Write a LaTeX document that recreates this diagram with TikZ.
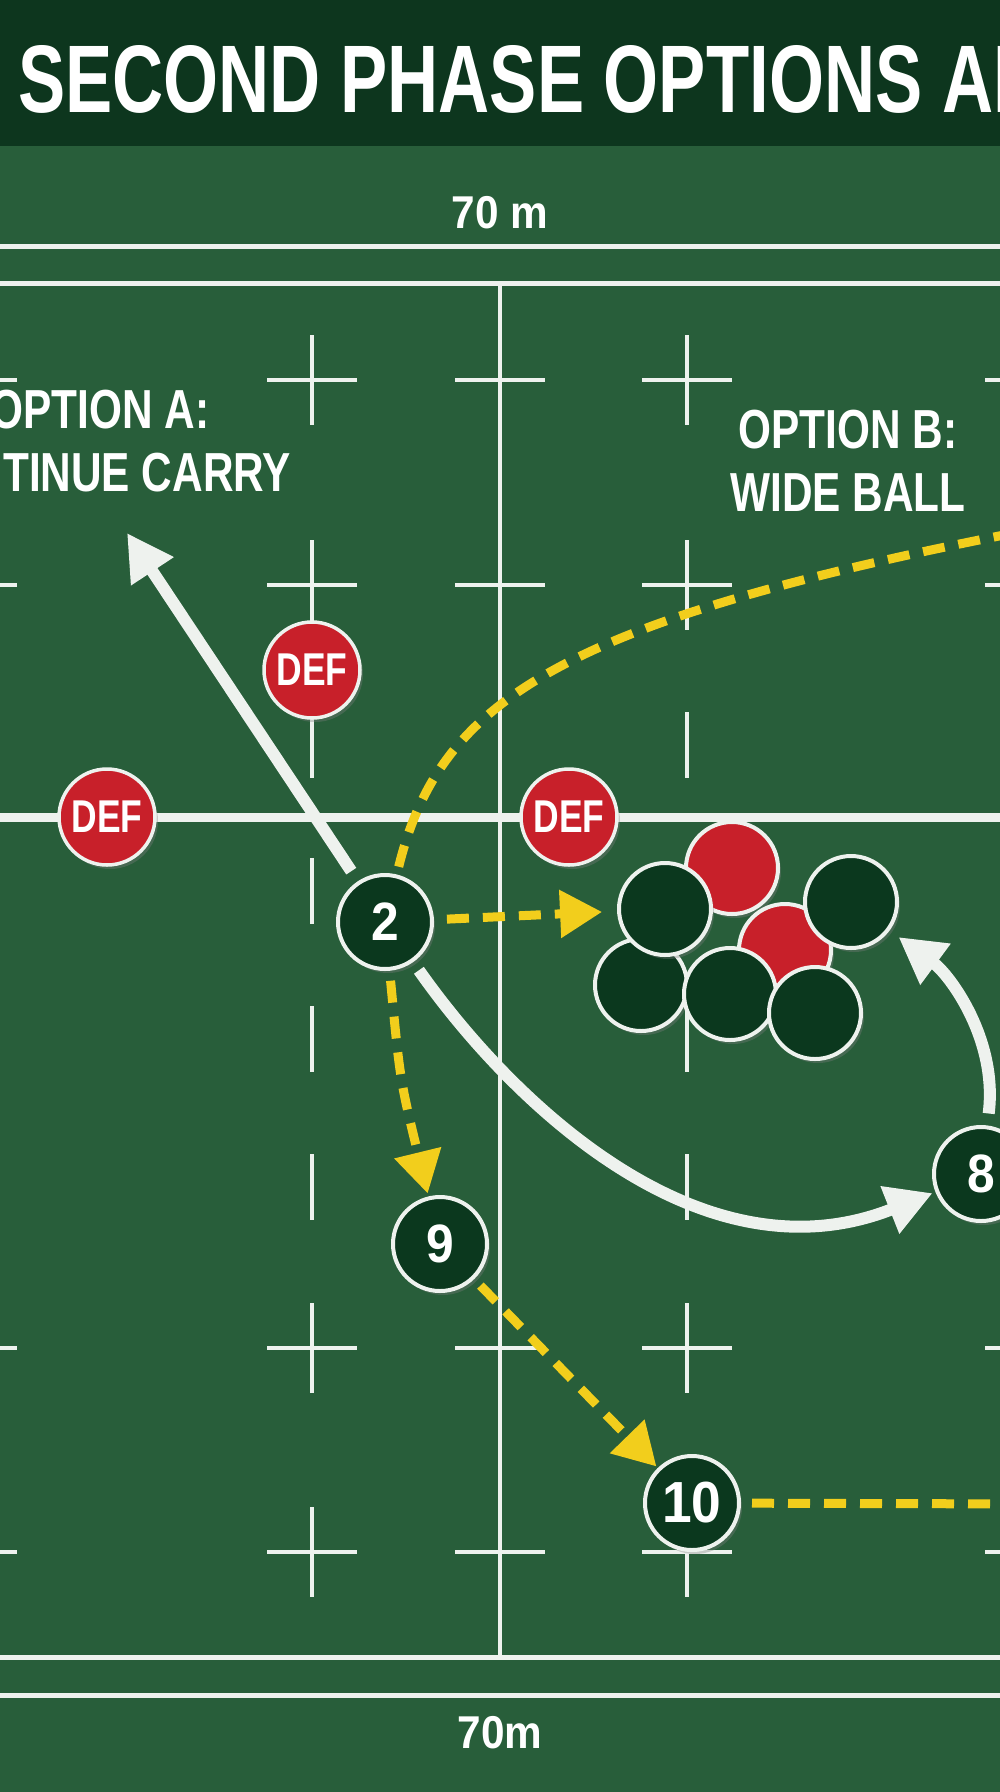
\documentclass[tikz,border=0pt]{standalone}
\usepackage{fontspec}
\setmainfont{Liberation Sans}
\newfontfamily\headfont{Liberation Sans}[FakeStretch=0.737]
\newfontfamily\condfont{Liberation Sans}[FakeStretch=0.77]
\newfontfamily\digitfont{Liberation Sans}[FakeStretch=0.92]
\usetikzlibrary{arrows.meta,shadows}
\definecolor{fieldgreen}{RGB}{40,94,58}
\definecolor{bargreen}{RGB}{13,54,30}
\definecolor{nodegreen}{RGB}{11,56,30}
\definecolor{defred}{RGB}{200,32,42}
\definecolor{passyellow}{RGB}{242,206,28}
\definecolor{linewhite}{RGB}{238,242,238}

\begin{document}
\begin{tikzpicture}[x=1pt,y=-1pt,
    fieldline/.style={linewhite,line width=5pt},
    crossline/.style={linewhite,line width=4pt},
    castshadow/.style={drop shadow={opacity=.35,shadow xshift=3pt,shadow yshift=-4pt}},
    player/.style={circle,draw=linewhite,line width=4pt,fill=nodegreen,minimum size=94pt,inner sep=0pt,text=white,castshadow,font=\digitfont\bfseries\fontsize{54}{54}\selectfont},
    defender/.style={circle,draw=linewhite,line width=3.5pt,fill=defred,minimum size=96pt,inner sep=0pt,text=white,castshadow,font=\condfont\bfseries\fontsize{46}{46}\selectfont},
    ruck/.style={circle,draw=linewhite,line width=4pt,fill=nodegreen,minimum size=92pt,castshadow},
    runline/.style={linewhite,line width=12pt,-{Triangle[length=46pt,width=48pt]}},
    passline/.style={passyellow,line width=9pt,dash pattern=on 22pt off 14pt,-{Triangle[length=42pt,width=46pt]}},
    optiontext/.style={text=white,align=center,inner sep=0pt,anchor=north,font=\condfont\bfseries\fontsize{55}{63}\selectfont},
    dimtext/.style={text=white,inner sep=0pt,anchor=base,font=\digitfont\bfseries\fontsize{46}{46}\selectfont}]
  \useasboundingbox (0,0) rectangle (1000,1792);
  \clip (0,0) rectangle (1000,1792);
  \fill[fieldgreen] (0,0) rectangle (1000,1792);
  \fill[bargreen] (0,0) rectangle (1000,146);
  \node[text=white,inner sep=0pt,anchor=base west,font=\headfont\bfseries\fontsize{96}{96}\selectfont] (heading) at (18,112) {SECOND PHASE OPTIONS AF};
  % pitch markings
  \draw[fieldline] (0,246) -- (1000,246) (0,283) -- (1000,283) (0,1657) -- (1000,1657) (0,1695) -- (1000,1695);
  \draw[fieldline,line width=4.5pt] (500,283) -- (500,1657);
  \draw[fieldline,line width=9pt] (0,817) -- (1000,817);
  \foreach \y in {380,585,1348,1552} {%
    \foreach \x in {-28,312,687,1030}
      \draw[crossline] (\x-45,\y) -- (\x+45,\y) (\x,\y-45) -- (\x,\y+45);
    \draw[crossline] (455,\y) -- (545,\y);
  }
  \foreach \x in {312,687} {%
    \foreach \y in {712,858,1006,1154}
      \draw[crossline] (\x,\y) -- (\x,\y+66);
  }
  \node[dimtext] (toplen) at (500,228) {70 m};
  \node[dimtext] (botlen) at (500,1748) {70m};
  \node[optiontext] (optA) at (100,390) {OPTION A:\\CONTINUE CARRY};
  \node[optiontext] (optB) at (848,410) {OPTION B:\\WIDE BALL};
  % defence
  \node[defender] (d1) at (312,670) {DEF};
  \node[defender] (d2) at (107,817) {DEF};
  \node[defender] (d3) at (569,817) {DEF};
  % ruck
  \node[ruck,fill=defred] (r1) at (732,868) {};
  \node[ruck,fill=defred] (r2) at (785,950) {};
  \node[ruck] (r3) at (641,985) {};
  \node[ruck] (r4) at (665,909) {};
  \node[ruck] (r5) at (851,902) {};
  \node[ruck] (r6) at (730,994) {};
  \node[ruck] (r7) at (815,1013) {};
  % attack
  \node[player] (p2) at (385,922) {2};
  \node[player] (p9) at (440,1244) {9};
  \node[player,font=\digitfont\bfseries\fontsize{58}{58}\selectfont] (p10) at (692,1503) {10};
  \node[player] (p8) at (981,1174) {8};
  \coordinate (carryend) at (127,533);
  \coordinate (wideend) at (1040,528);
  \coordinate (flatend) at (1040,1504);
  \draw[runline,shorten <=12pt] (p2) -- (carryend);
  \draw[runline,shorten <=10pt,shorten >=3pt] (p2) .. controls (510,1100) and (700,1285) .. (p8);
  \draw[runline,shorten <=12pt,shorten >=11pt] (p8) .. controls (998,1040) and (950,975) .. (r5);
  \draw[passline,shorten <=13pt,shorten >=15pt] (p2) -- (r4);
  \draw[passline,shorten <=10pt,shorten >=3pt] (p2) .. controls (400,1080) .. (p9);
  \draw[passline,shorten <=9pt,shorten >=2pt] (p9) -- (p10);
  \draw[passline,-,shorten <=11pt] (p10) -- (flatend);
  \draw[passline,-,shorten <=8pt] (p2) .. controls (440,700) and (560,620) .. (wideend);
\end{tikzpicture}
\end{document}
